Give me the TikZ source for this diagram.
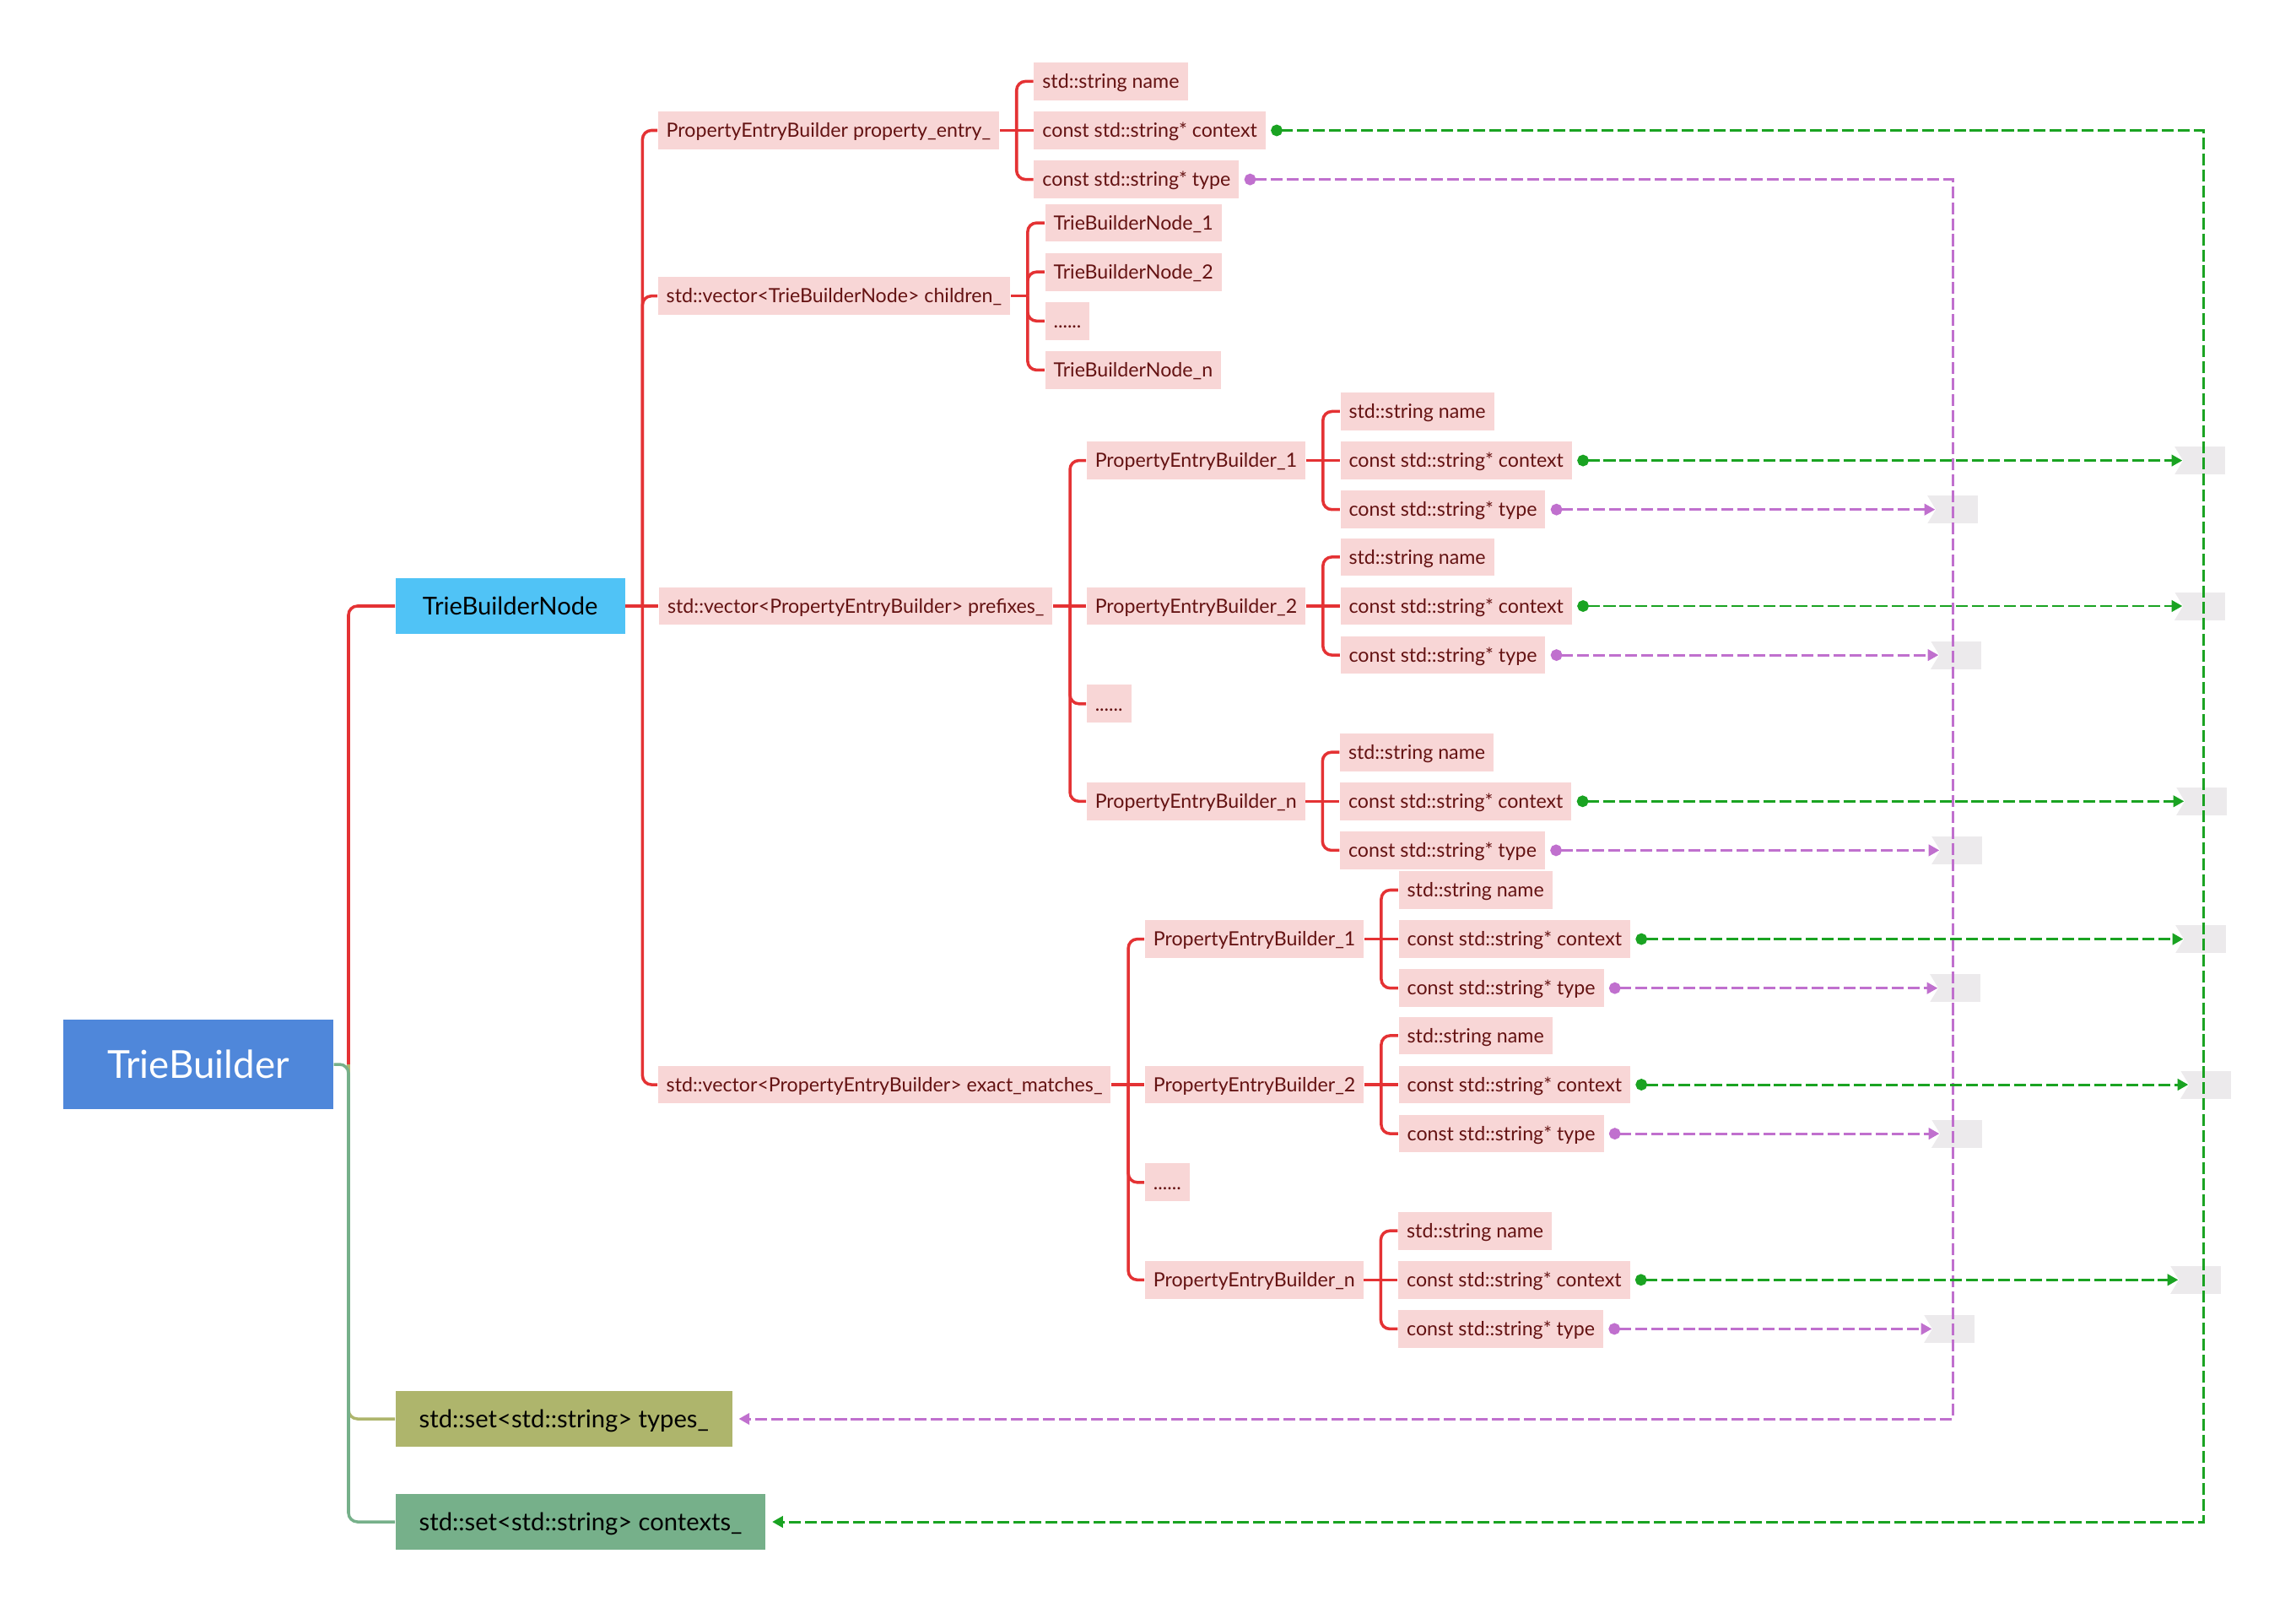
\documentclass[tikz,border=0pt]{standalone}
\usepackage{fontspec}
\setmainfont{Lato}
\usepackage{xcolor}
\usepackage{tikz}
\usetikzlibrary{arrows.meta, positioning}
\definecolor{rootblue}{RGB}{79, 135, 218}
\definecolor{nodeblue}{RGB}{80, 195, 246}
\definecolor{setolive}{RGB}{174, 181, 108}
\definecolor{setgreen}{RGB}{118, 176, 138}
\definecolor{fieldpink}{RGB}{248, 214, 214}
\definecolor{fieldtext}{RGB}{100, 18, 18}
\definecolor{treered}{RGB}{228, 50, 52}
\definecolor{linkgreen}{RGB}{26, 163, 34}
\definecolor{linkpurple}{RGB}{192, 112, 206}
\definecolor{sinkgray}{RGB}{236, 234, 236}

\begin{document}
\begin{tikzpicture}[
    rootbox/.style={rectangle, fill=rootblue, text=white, minimum width=3.2cm, minimum height=1.06cm, font=\fontsize{13}{15}\selectfont, text height=9.2pt, text depth=0pt},
    member/.style={rectangle, anchor=west, text=black, minimum height=0.66cm, inner xsep=0.28cm, font=\fontsize{8.3}{10}\selectfont, text height=5.9pt, text depth=0pt},
    field/.style={rectangle, anchor=west, fill=fieldpink, text=fieldtext, minimum height=0.447cm, inner xsep=0.1cm, inner ysep=0pt, font=\fontsize{6.6}{8}\selectfont, text height=4.7pt, text depth=0pt},
    sink/.style={rectangle, fill=sinkgray, minimum width=0.6cm, minimum height=0.33cm, inner sep=0pt,
        path picture={\fill[white] (path picture bounding box.north west) -- ++(0.1,-0.165) -- (path picture bounding box.south west) -- cycle;}},
    tree/.style={draw=treered, line width=1pt, rounded corners=3pt},
    ctxlink/.style={draw=linkgreen, line width=0.85pt, dash pattern=on 4pt off 1.4pt, {Circle[length=3.9pt]}-{Triangle[length=3.6pt, width=3.8pt]}, shorten <=1.6pt},
    typelink/.style={draw=linkpurple, line width=0.85pt, dash pattern=on 4pt off 1.4pt, {Circle[length=3.9pt]}-{Triangle[length=3.6pt, width=3.8pt]}, shorten <=1.6pt}
]
    \useasboundingbox (0,0) rectangle (27.21,-19.11);

    \node[rootbox] (tb) at (2.35,-12.61) {TrieBuilder};
    \node[member, fill=nodeblue, minimum width=2.72cm] (tbn) at (4.68,-7.18) {TrieBuilderNode};
    \node[member, fill=setolive, minimum width=3.95cm] (types) at (4.68,-16.81) {std::set<std::string> types\_};
    \node[member, fill=setgreen, minimum width=4.37cm] (ctxs) at (4.68,-18.03) {std::set<std::string> contexts\_};

    \coordinate (j0) at (4.13,-12.61);
    \draw[tree] (j0) |- (tbn);
    \draw[tree, draw=setolive] (j0) |- (types);
    \draw[tree, draw=setgreen] (tb) -- (j0) |- (ctxs);

    \coordinate[right=0.2cm of tbn] (j1);
    \node[field] (pe) at (7.79,-1.545) {PropertyEntryBuilder property\_entry\_};
    \node[field] (ch) at (7.79,-3.507) {std::vector<TrieBuilderNode> children\_};
    \node[field, right=0.19cm of j1] (pf) {std::vector<PropertyEntryBuilder> prefixes\_};
    \node[field] (ex) at (7.79,-12.85) {std::vector<PropertyEntryBuilder> exact\_matches\_};
    \draw[tree] (tbn) -- (pf);
    \foreach \m in {pe,ch,ex} \draw[tree] (j1) |- (\m);

    \coordinate[right=0.2cm of pe] (j2);
    \node[field, right=0.2cm of j2] (pec) {const std::string* context};
    \node[field, above=0.12cm of pec.north west, anchor=south west] (pen) {std::string name};
    \node[field, below=0.12cm of pec.south west, anchor=north west] (pet) {const std::string* type};
    \draw[tree] (pe) -- (pec);
    \foreach \m in {pen,pet} \draw[tree] (j2) |- (\m);

    \coordinate[right=0.2cm of ch] (j3);
    \node[field, right=0.2cm of j3, yshift=0.285cm] (cn2) {TrieBuilderNode\_2};
    \node[field, above=0.12cm of cn2.north west, anchor=south west] (cn1) {TrieBuilderNode\_1};
    \node[field, below=0.12cm of cn2.south west, anchor=north west] (cdots) {......};
    \node[field, below=0.12cm of cdots.south west, anchor=north west] (cnn) {TrieBuilderNode\_n};
    \draw[tree] (ch) -- (j3);
    \foreach \m in {cn1,cn2,cdots,cnn} \draw[tree] (j3) |- (\m);

    \coordinate[right=0.2cm of pf] (j4);
    \node[field, right=0.19cm of j4] (pa2) {PropertyEntryBuilder\_2};
    \node[field, above=1.263cm of pa2.north west, anchor=south west] (pa1) {PropertyEntryBuilder\_1};
    \node[field, below=0.697cm of pa2.south west, anchor=north west] (pad) {......};
    \node[field, below=0.694cm of pad.south west, anchor=north west] (pan) {PropertyEntryBuilder\_n};
    \draw[tree] (pf) -- (pa2);
    \foreach \m in {pa1,pad,pan} \draw[tree] (j4) |- (\m);

    \coordinate[right=0.2cm of ex] (j5);
    \node[field, right=0.19cm of j5] (eb2) {PropertyEntryBuilder\_2};
    \node[field, above=1.263cm of eb2.north west, anchor=south west] (eb1) {PropertyEntryBuilder\_1};
    \node[field, below=0.697cm of eb2.south west, anchor=north west] (ebd) {......};
    \node[field, below=0.694cm of ebd.south west, anchor=north west] (ebn) {PropertyEntryBuilder\_n};
    \draw[tree] (ex) -- (eb2);
    \foreach \m in {eb1,ebd,ebn} \draw[tree] (j5) |- (\m);

    \foreach \p/\gx/\px in {pa1/26.07/23.14, pa2/26.07/23.18, pan/26.09/23.19, eb1/26.08/23.17, eb2/26.14/23.19, ebn/26.02/23.10} {
        \coordinate[right=0.2cm of \p] (\p j);
        \node[field, right=0.2cm of \p j] (\p c) {const std::string* context};
        \node[field, above=0.12cm of \p c.north west, anchor=south west] (\p n) {std::string name};
        \node[field, below=0.12cm of \p c.south west, anchor=north west] (\p t) {const std::string* type};
        \draw[tree] (\p) -- (\p c);
        \draw[tree] (\p j) |- (\p n);
        \draw[tree] (\p j) |- (\p t);
        \node[sink] (\p g) at (\gx,0 |- \p c) {};
        \node[sink] (\p s) at (\px,0 |- \p t) {};
    }

    \coordinate (gbus) at (26.11,-10);
    \coordinate (pbus) at (23.14,-10);
    \draw[typelink, shorten >=2pt] (pet) -- (pet -| pbus) |- (types);
    \draw[ctxlink, shorten >=2pt] (pec) -- (pec -| gbus) |- (ctxs);
    \foreach \p in {pa1,pa2,pan,eb1,eb2,ebn} {
        \draw[typelink, shorten >=-0.1cm] (\p t) -- (\p s);
        \draw[ctxlink, shorten >=-0.1cm] (\p c) -- (\p g);
    }
\end{tikzpicture}
\end{document}
